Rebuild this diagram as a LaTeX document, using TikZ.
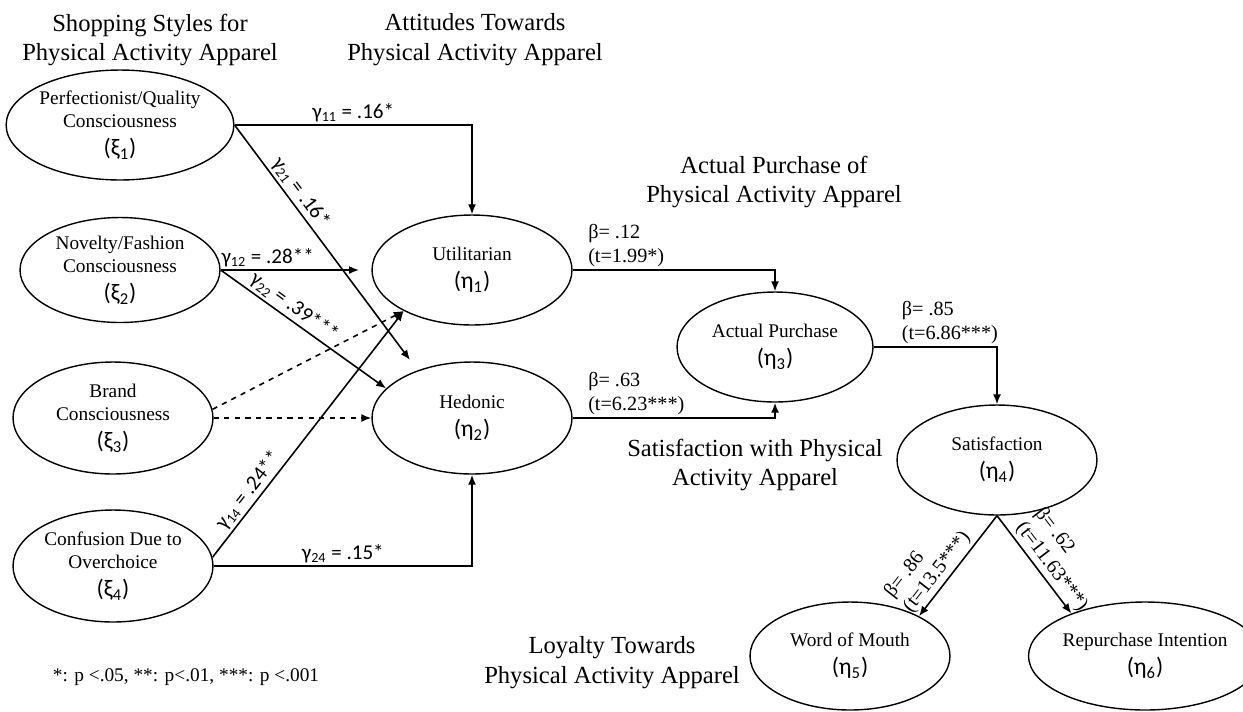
\documentclass[tikz,border=0pt]{standalone}
\usepackage{fontspec}
\setmainfont{Liberation Serif}
\newfontfamily\gkfont{Carlito}
\usetikzlibrary{shapes, arrows.meta}

\tikzset{
  latent/.style={ellipse, draw, line width=0.8pt, inner sep=0pt, align=center,
    minimum width=4cm, minimum height=2.2cm, font=\fontsize{11}{13}\selectfont},
  heading/.style={align=center, font=\fontsize{14}{17}\selectfont},
  link/.style={-{Latex[length=2mm, width=1.6mm]}, line width=0.9pt},
  gcoef/.style={font=\gkfont\fontsize{12}{14}\selectfont, inner sep=1.5pt},
  bcoef/.style={align=left, font=\fontsize{11.5}{13.5}\selectfont, inner sep=1.5pt},
}
\newcommand{\gsub}[2]{{\gkfont\fontsize{13.5}{15}\selectfont(#1\textsubscript{#2})}}

\begin{document}
\begin{tikzpicture}[x=0.02cm, y=-0.02cm]
\useasboundingbox (0,0) rectangle (1243,711);

% headings
\node[heading] (h1) at (150,40) {Shopping Styles for\\Physical Activity Apparel};
\node[heading] (h2) at (475,40) {Attitudes Towards\\Physical Activity Apparel};
\node[heading] (h3) at (774,182) {Actual Purchase of\\Physical Activity Apparel};
\node[heading] (h4) at (755,465) {Satisfaction with Physical\\Activity Apparel};
\node[heading] (h5) at (612,663) {Loyalty Towards\\Physical Activity Apparel};

% shopping styles
\node[latent, minimum width=3.92cm] (xi1) at (120,125) {Perfectionist/Quality\\Consciousness\\[3pt]\gsub{ξ}{1}};
\node[latent, minimum height=2.1cm] (xi2) at (120,270) {Novelty/Fashion\\Consciousness\\[3pt]\gsub{ξ}{2}};
\node[latent, minimum height=2.24cm] (xi3) at (113,418) {Brand\\Consciousness\\[3pt]\gsub{ξ}{3}};
\node[latent, minimum height=2.24cm] (xi4) at (113,566) {Confusion Due to\\Overchoice\\[3pt]\gsub{ξ}{4}};

% attitudes, purchase, satisfaction, loyalty
\node[latent] (eta1) at (472,270) {Utilitarian\\[3pt]\gsub{η}{1}};
\node[latent, minimum height=2.24cm] (eta2) at (472,418) {Hedonic\\[3pt]\gsub{η}{2}};
\node[latent, minimum width=3.92cm] (eta3) at (775,347) {Actual Purchase\\[3pt]\gsub{η}{3}};
\node[latent] (eta4) at (997,460) {Satisfaction\\[3pt]\gsub{η}{4}};
\node[latent, minimum height=2.16cm] (eta5) at (850,656) {Word of Mouth\\[3pt]\gsub{η}{5}};
\node[latent, minimum width=3.88cm, minimum height=2.16cm] (eta6) at (1145,656) {Repurchase Intention\\[3pt]\gsub{η}{6}};

\coordinate (g12end) at (359,270);
\coordinate (g21end) at (410,360);

% gamma paths
\draw[link] (xi1.east) -| node[gcoef, pos=0.25, above] {γ\textsubscript{11} = .16*} (eta1.north);
\draw[link] (xi1.east) -- node[gcoef, sloped, above, pos=0.32] {γ\textsubscript{21} = .16*} (g21end);
\draw[link] (xi2.east) -- node[gcoef, above, pos=0.34] {γ\textsubscript{12} = .28**} (g12end);
\draw[link] (xi2.east) -- node[gcoef, sloped, above, pos=0.4] {γ\textsubscript{22} = .39***} (eta2.161);
\draw[link, dashed] (xi3.5) -- (eta1.211);
\draw[link, dashed] (xi3.east) -- (eta2.west);
\draw[link] (xi4.5) -- node[gcoef, sloped, above, pos=0.24] {γ\textsubscript{14} = .24**} (eta1.211);
\draw[link] (xi4.east) -| node[gcoef, pos=0.25, above] {γ\textsubscript{24} = .15*} (eta2.south);

% beta paths
\draw[link] (eta1.east) -| node[bcoef, pos=0.03, above right] {β= .12\\(t=1.99*)} (eta3.north);
\draw[link] (eta2.east) -| node[bcoef, pos=0.03, above right] {β= .63\\(t=6.23***)} (eta3.south);
\draw[link] (eta3.east) -| node[bcoef, pos=0.1, above right] {β= .85\\(t=6.86***)} (eta4.north);
\draw[link] (eta4.south) -- node[bcoef, sloped, above, pos=0.64] {β= .86\\(t=13.5***)} (eta5.30);
\draw[link] (eta4.south) -- node[bcoef, sloped, above, pos=0.6] {β= .62\\(t=11.63***)} (eta6.150);

\node[font=\fontsize{11}{13}\selectfont] (note) at (186,677) {*: p <.05, **: p<.01, ***: p <.001};
\end{tikzpicture}
\end{document}
